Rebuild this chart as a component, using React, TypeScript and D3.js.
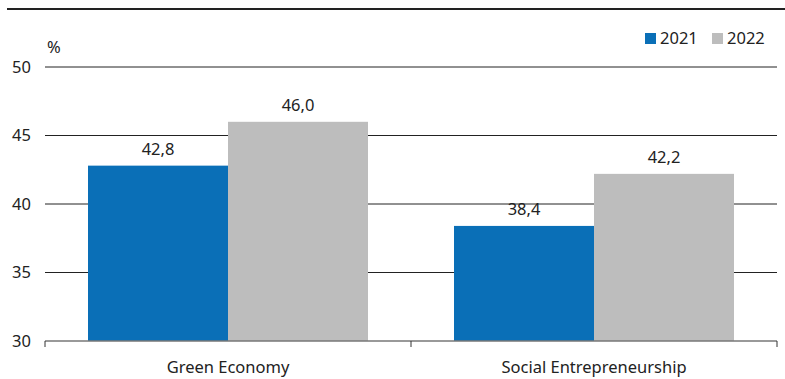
import React from "react";
import * as d3 from "d3";

const categories = ["Green Economy", "Social Entrepreneurship"];
const seriesNames = ["2021", "2022"];
const values2021 = [42.8, 38.4];
const values2022 = [46.0, 42.2];
const yTicks = [30, 35, 40, 45, 50];
const colors = ["#0a6fb7", "#bdbdbd"];

const W = 785, H = 379;
const M = { left: 45, right: 777, top: 67, bottom: 341 };
const font = "'Source Sans Pro', 'Noto Sans', sans-serif";
const FS = 16.5;

export default function App() {
  const x0 = d3.scaleBand().domain(categories).range([M.left, M.right]).paddingInner(0).paddingOuter(0);
  const inner = 280 / 366;
  const x1 = d3.scaleBand().domain(seriesNames).range([0, x0.bandwidth() * inner]);
  const off = (x0.bandwidth() * (1 - inner)) / 2;
  const y = d3.scaleLinear().domain([30, 50]).range([M.bottom, M.top]);
  const series = [values2021, values2022];
  const fmt = (v: number) => v.toFixed(1).replace(".", ",");
  return (
    <svg width={W} height={H} style={{ position: "absolute", left: 0, top: 0, fontFamily: font }}>
      <rect x={0} y={0} width={W} height={H} fill="#fff" />
      <line x1={7} x2={785} y1={9} y2={9} stroke="#222" strokeWidth={2} />
      {yTicks.map((t) => (
        <g key={t}>
          {t !== 30 && <line x1={M.left} x2={M.right} y1={y(t)} y2={y(t)} stroke="#222" strokeWidth={1} />}
          <text x={31} y={y(t)} dy="0.35em" textAnchor="end" fontSize={FS} fill="#222">{t}</text>
        </g>
      ))}
      <text x={47} y={53} fontSize={FS} fill="#222">%</text>
      {categories.map((c, i) =>
        series.map((s, j) => {
          const bx = (x0(c) as number) + off + (x1(seriesNames[j]) as number);
          return (
            <g key={c + j}>
              <rect x={bx} y={y(s[i])} width={x1.bandwidth()} height={M.bottom - y(s[i])} fill={colors[j]} />
              <text x={bx + x1.bandwidth() / 2} y={y(s[i]) - 11} textAnchor="middle" fontSize={FS} fill="#222">{fmt(s[i])}</text>
            </g>
          );
        })
      )}
      <line x1={M.left} x2={M.right} y1={M.bottom} y2={M.bottom} stroke="#777" strokeWidth={1.5} />
      {[M.left, M.left + x0.bandwidth(), M.right].map((t, i) => (
        <line key={i} x1={t} x2={t} y1={M.bottom} y2={M.bottom + 6} stroke="#333" strokeWidth={1} />
      ))}
      {categories.map((c) => (
        <text key={c} x={(x0(c) as number) + x0.bandwidth() / 2} y={373} textAnchor="middle" fontSize={FS} fill="#222">{c}</text>
      ))}
      {seriesNames.map((n, j) => (
        <g key={n} transform={`translate(${645 + j * 67},33)`}>
          <rect x={0} y={0} width={11} height={11} fill={colors[j]} />
          <text x={15} y={11} fontSize={FS} fill="#222">{n}</text>
        </g>
      ))}
    </svg>
  );
}
